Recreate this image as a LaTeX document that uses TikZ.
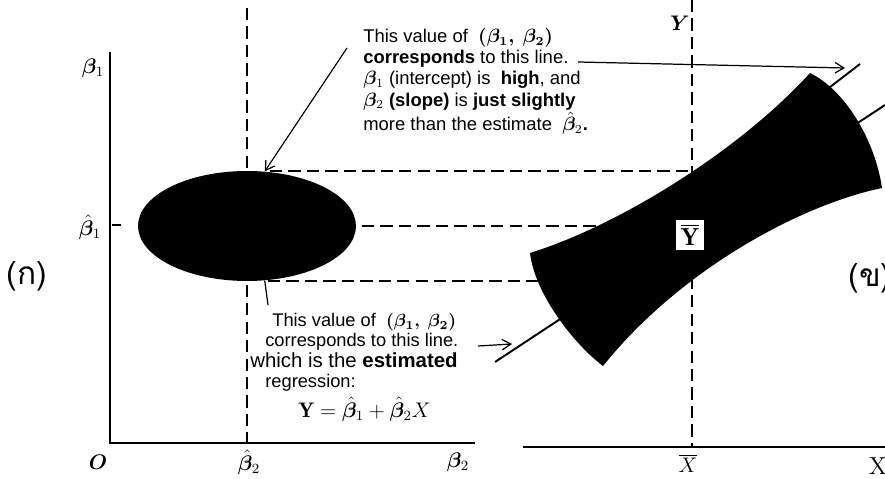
\documentclass[tikz,border=0pt]{standalone}
\usepackage{amsmath,amssymb,bm}
\usepackage{fontspec}
\newfontfamily\notefont{Liberation Sans}
\newfontfamily\thaifont[Script=Thai]{Loma}
\usetikzlibrary{arrows.meta, positioning, shapes.geometric}

\begin{document}
\begin{tikzpicture}[
    x=0.02cm, y=-0.02cm,
    axis/.style={line width=1.5pt},
    guide/.style={line width=0.8pt, dash pattern=on 7pt off 3.5pt},
    regline/.style={line width=1.1pt},
    arr/.style={-{Straight Barb[length=5pt, width=6pt]}, line width=0.7pt},
    upnote/.style={font=\notefont\fontsize{10.5}{12}\selectfont,
        align=left, inner sep=0pt, anchor=north west},
    lownote/.style={font=\notefont\fontsize{10.4}{11.6}\selectfont,
        align=left, inner sep=0pt, anchor=north west},
    lbl/.style={font=\fontsize{12}{14}\selectfont, inner sep=1pt},
    tag/.style={font=\thaifont\fontsize{18}{20}\selectfont, inner sep=0pt},
    region/.style={ellipse, fill=black, inner sep=0pt,
        minimum width=4.36cm, minimum height=2.2cm},
]
\useasboundingbox (0,0) rectangle (885,479);

%% dashed guides (behind the filled shapes)
\draw[guide] (247,8) -- (247,443);
\draw[guide] (692,0) -- (692,447);
\draw[guide] (270,171) -- (692,171);
\draw[guide] (362,226) -- (600,226);
\draw[guide] (268,281) -- (545,281);

%% regression lines
\draw[regline] (495,362) -- (885,105);
\draw[regline] (700,187) -- (860,64);

%% confidence band and confidence region
\fill (530,253) .. controls (620,225) and (740,150) .. (810,73)
      .. controls (845,90) and (875,140) .. (882,188)
      .. controls (800,205) and (680,270) .. (603,366)
      .. controls (575,345) and (535,295) .. cycle;
\node[region] (cr) at (247,226) {};
\node[fill=white, inner sep=2.5pt, font=\fontsize{14}{16}\selectfont] (ybar) at (690,235) {$\overline{\mathbf{Y}}$};

%% axes
\draw[axis] (110,52) -- (110,443) -- (475,443);
\draw[axis] (523,447) -- (885,447);
\draw[line width=0.7pt] (112,225) -- (121,225);

%% axis labels
\node[lbl] (lb1)  at (93,68)   {$\bm{\beta}_1$};
\node[lbl] (lb1h) at (90,227)  {$\hat{\bm{\beta}}_1$};
\node[lbl] (lO)   at (98,462)  {$\bm{O}$};
\node[lbl] (lb2h) at (249,462) {$\hat{\bm{\beta}}_2$};
\node[lbl] (lb2)  at (458,462) {$\bm{\beta}_2$};
\node[lbl] (lY)   at (680,23)  {$\bm{Y}$};
\node[lbl] (lXb)  at (688,463) {$\overline{X}$};
\node[lbl, font=\fontsize{14}{16}\selectfont] (lX) at (878,466) {X};
\node[tag] (ka)  at (27,276)  {(ก)};
\node[tag] (kho) at (870,278) {(ข)};

%% notes
\node[upnote] (note1) at (363,28) {%
    This value of \ $\bm{(\beta_1,\ \beta_2)}$\\
    \textbf{corresponds} to this line.\\
    $\bm{\beta}_1$ (intercept) is \ \textbf{high}, and\\
    $\bm{\beta}_2$ \textbf{(slope)} is \textbf{just slightly}\\
    more than the estimate \ $\hat{\bm{\beta}}_2$\textbf{.}};
\node[lownote] (note2) at (250,313) {%
    \hspace*{0.44cm}This value of \ $\bm{(\beta_1,\ \beta_2)}$\\
    \hspace*{0.3cm}corresponds to this line.\\
    {\fontsize{11.6}{11.6}\selectfont which is the \textbf{estimated}}\\
    \hspace*{0.3cm}regression:\\[2pt]
    \hspace*{0.96cm}{\fontsize{12}{14}\selectfont $\mathbf{Y}=\hat{\bm{\beta}}_1+\hat{\bm{\beta}}_2X$}};

%% arrows
\coordinate (hiL)  at (845,68);
\coordinate (estL) at (512,344);
\draw[arr] ([shift={(-16,20)}]note1.north west) -- (cr.72);
\draw[arr] ([shift={(215,34)}]note1.north west) -- (hiL);
\draw[arr] ([shift={(228,33)}]note2.north west) -- (estL);
\draw[line width=0.7pt] ([shift={(18,-8)}]note2.north west) -- (cr.-72);
\end{tikzpicture}
\end{document}
